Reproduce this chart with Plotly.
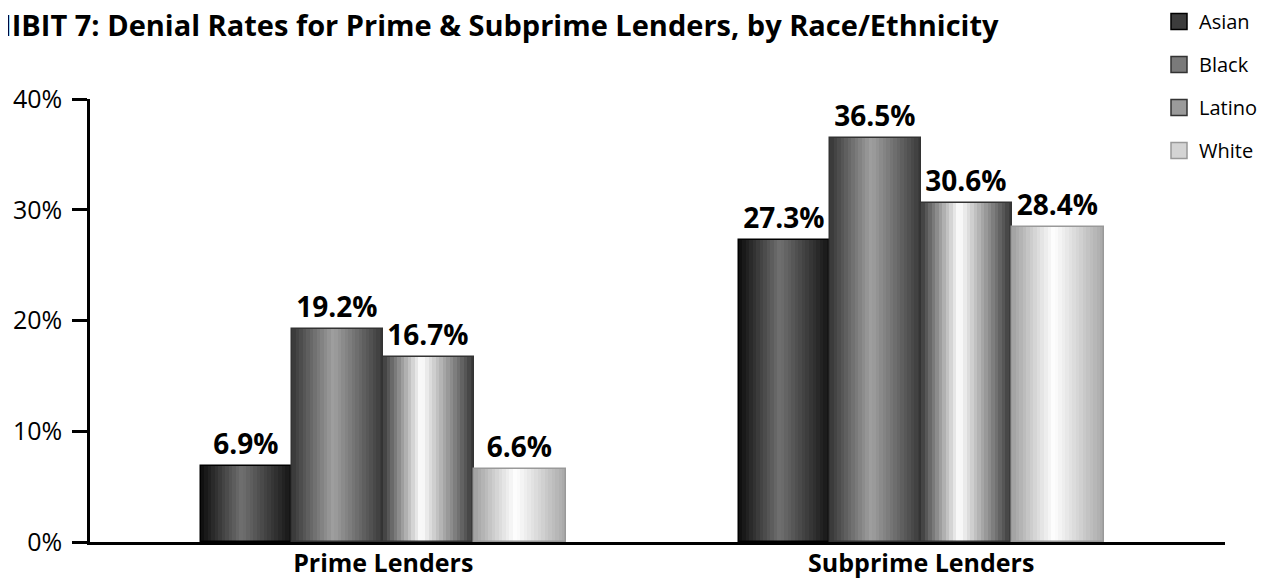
import plotly.graph_objects as go

categories = ["Prime Lenders", "Subprime Lenders"]
series_names = ["Asian", "Black", "Latino", "White"]
asian = [6.9, 27.3]
black = [19.2, 36.5]
latino = [16.7, 30.6]
white = [6.6, 28.4]
values = [asian, black, latino, white]
y_ticks = [0, 10, 20, 30, 40]
y_tick_labels = ["0%", "10%", "20%", "30%", "40%"]

# gradient profiles (position across bar, gray level)
profiles = [
    [(0.0, 12), (0.45, 112), (1.0, 18)],
    [(0.0, 55), (0.45, 160), (1.0, 55)],
    [(0.0, 60), (0.42, 255), (1.0, 52)],
    [(0.0, 160), (0.45, 255), (1.0, 168)],
]
borders = ["#000000", "#333333", "#333333", "#999999"]
legend_colors = ["#3c3c3c", "#7a7a7a", "#9a9a9a", "#d4d4d4"]


def gray_at(profile, t):
    for (p0, g0), (p1, g1) in zip(profile, profile[1:]):
        if p0 <= t <= p1:
            f = (t - p0) / (p1 - p0)
            g = int(round(g0 + (g1 - g0) * f))
            return f"rgb({g},{g},{g})"
    g = profile[-1][1]
    return f"rgb({g},{g},{g})"


FONT = "Open Sans"
group_w = 0.678
bw = group_w / 4
n_slices = 26

# page has an 8px body margin; figure is sized to fit the window exactly
W, H = 1271, 576
L, T, PW, PH = 82, 91, 1135, 443

fig = go.Figure()
for i, (name, vals) in enumerate(zip(series_names, values)):
    left = -group_w / 2 + i * bw
    sw = bw / n_slices
    for k in range(n_slices):
        off = left + k * sw
        w = min(sw * 1.4, left + bw - off)
        fig.add_trace(go.Bar(
            x=categories, y=vals, offset=[off] * 2, width=[w] * 2,
            marker=dict(color=gray_at(profiles[i], (k + 0.5) / n_slices), line=dict(width=0)),
            showlegend=False, hoverinfo="skip",
        ))
    fig.add_trace(go.Bar(
        x=categories, y=vals, offset=[left] * 2, width=[bw] * 2,
        marker=dict(color="rgba(0,0,0,0)", line=dict(color=borders[i], width=1.5)),
        text=[f"{v:.1f}%" for v in vals], textposition="outside",
        textfont=dict(family=FONT, size=28, color="#000000", weight="bold"),
        cliponaxis=False, showlegend=False, name=name,
    ))

for i, name in enumerate(series_names):
    fig.add_trace(go.Scatter(
        x=[None], y=[None], mode="markers", name=name, legendgroup=name,
        marker=dict(symbol="square", size=16, color=legend_colors[i],
                    line=dict(color=borders[i], width=1.5)),
    ))

fig.update_layout(
    width=W, height=H,
    margin=dict(l=L, r=W - L - PW, t=T, b=H - T - PH, autoexpand=False),
    paper_bgcolor="white", plot_bgcolor="white",
    barmode="overlay", bargap=0,
    font=dict(family=FONT, color="#000000"),
    showlegend=True,
    legend=dict(x=(1151 - L) / PW, y=1 + (T + 6) / PH, xanchor="left", yanchor="top",
                font=dict(family=FONT, size=20, color="#000000"),
                traceorder="grouped", tracegroupgap=14,
                bgcolor="rgba(0,0,0,0)", itemclick=False),
    annotations=[dict(
        text="<b>EXHIBIT 7: Denial Rates for Prime & Subprime Lenders, by Race/Ethnicity</b>",
        xref="paper", yref="paper", x=(993 - L) / PW, y=1 + (T - 16) / PH,
        xanchor="right", yanchor="middle", showarrow=False,
        font=dict(family=FONT, size=29, color="#000000"),
    )],
)
fig.update_xaxes(type="category", range=[-0.545, 1.5646], showline=True,
                 linecolor="#000000", linewidth=2.5, ticks="", showgrid=False,
                 tickfont=dict(family=FONT, size=25, color="#000000", weight="bold"),
                 ticklabelstandoff=-3, zeroline=False)
fig.update_yaxes(range=[0, 40], tickvals=y_ticks, ticktext=y_tick_labels,
                 showline=True, linecolor="#000000", linewidth=2.5,
                 ticks="outside", ticklen=15, tickwidth=2.5, tickcolor="#000000",
                 showgrid=False, zeroline=False, ticklabelstandoff=5,
                 tickfont=dict(family=FONT, size=25, color="#000000"))

fig.write_html("out.html")
